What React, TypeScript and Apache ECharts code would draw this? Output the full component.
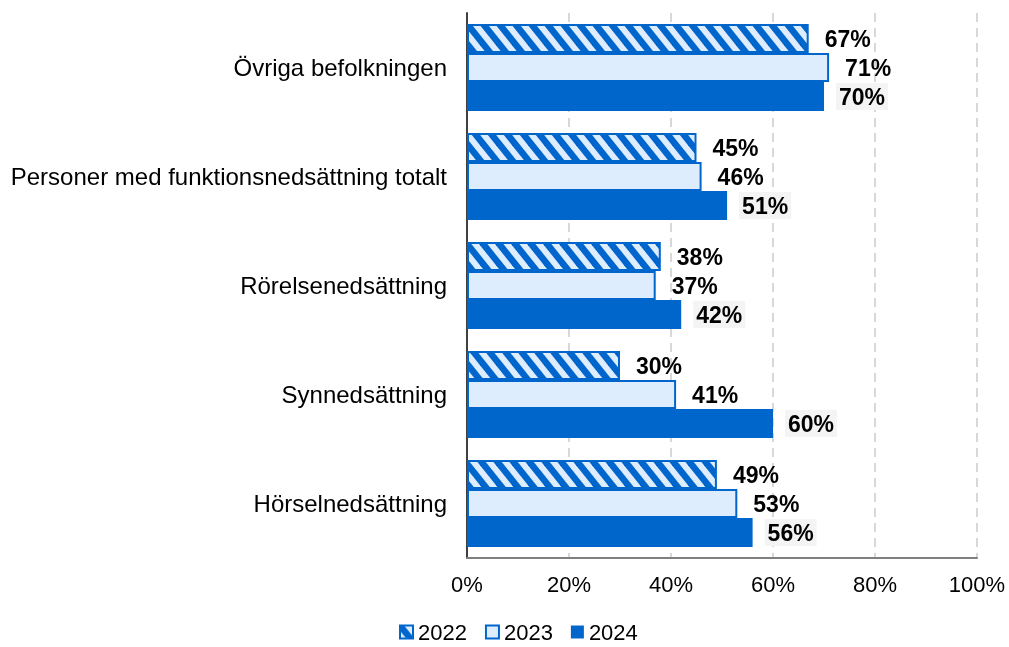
import React, { useEffect, useRef } from "react";
import * as echarts from "echarts";

const categories = [
  "Övriga befolkningen",
  "Personer med funktionsnedsättning totalt",
  "Rörelsenedsättning",
  "Synnedsättning",
  "Hörselnedsättning",
];
const values2022 = [67, 45, 38, 30, 49];
const values2023 = [71, 46, 37, 41, 53];
const values2024 = [70, 51, 42, 60, 56];
const seriesNames = ["2022", "2023", "2024"];

const BLUE = "#0066cc";
const LIGHT = "#ddedfd";
const FONT = 'Arial, "Liberation Sans", sans-serif';

function makeHatch(): HTMLCanvasElement {
  const W = 16;
  const H = 20;
  const c = document.createElement("canvas");
  c.width = W;
  c.height = H;
  const ctx = c.getContext("2d")!;
  ctx.fillStyle = LIGHT;
  ctx.fillRect(0, 0, W, H);
  ctx.strokeStyle = BLUE;
  ctx.lineWidth = 6.5;
  for (const off of [-2 * W, -W, 0, W, 2 * W]) {
    ctx.beginPath();
    ctx.moveTo(off - W, -H);
    ctx.lineTo(off + 2 * W, 2 * H);
    ctx.stroke();
  }
  return c;
}

export default function App() {
  const ref = useRef<HTMLDivElement>(null);
  useEffect(() => {
    if (!ref.current) return;
    const chart = echarts.init(ref.current, undefined, { renderer: "svg" });
    const hatch = makeHatch();
    const labelBase = {
      show: true,
      position: "right" as const,
      distance: 16,
      formatter: "{c}%",
      fontFamily: FONT,
      fontSize: 23,
      fontWeight: "bold" as const,
      color: "#000",
    };
    chart.setOption({
      animation: false,
      grid: { left: 467, right: 32, top: 13, bottom: 89, containLabel: false },
      legend: {
        data: seriesNames,
        icon: "rect",
        left: 399,
        top: 621,
        padding: 0,
        itemWidth: 13,
        itemHeight: 13,
        itemGap: 18,
        textStyle: { fontFamily: FONT, fontSize: 22, color: "#000", lineHeight: 22 },
      },
      xAxis: {
        type: "value",
        min: 0,
        max: 100,
        interval: 20,
        axisLabel: {
          formatter: "{value}%",
          fontFamily: FONT,
          fontSize: 22,
          color: "#000",
          margin: 15,
        },
        axisLine: { show: true, lineStyle: { color: "#7f7f7f", width: 2 } },
        axisTick: { show: false },
        splitLine: {
          show: true,
          lineStyle: { color: "#cccccc", type: [9, 6], width: 1.5 },
        },
      },
      yAxis: {
        type: "category",
        data: categories,
        inverse: true,
        axisLabel: {
          fontFamily: FONT,
          fontSize: 24,
          color: "#000",
          margin: 20,
        },
        axisLine: { show: true, lineStyle: { color: "#404040", width: 2 } },
        axisTick: { show: false },
        splitLine: { show: false },
      },
      series: [
        {
          name: seriesNames[0],
          type: "bar",
          data: values2022,
          barWidth: 29,
          barGap: "0%",
          itemStyle: {
            color: { image: hatch, repeat: "repeat" },
            borderColor: BLUE,
            borderWidth: 2,
          },
          label: { ...labelBase, distance: 16 },
        },
        {
          name: seriesNames[1],
          type: "bar",
          data: values2023,
          barWidth: 29,
          barGap: "0%",
          itemStyle: { color: LIGHT, borderColor: BLUE, borderWidth: 2 },
          label: { ...labelBase, distance: 16 },
        },
        {
          name: seriesNames[2],
          type: "bar",
          data: values2024,
          barWidth: 29,
          barGap: "0%",
          itemStyle: { color: BLUE },
          label: {
            ...labelBase,
            distance: 12,
            backgroundColor: "#f4f4f4",
            padding: [2, 3],
          },
        },
      ],
    });
    return () => chart.dispose();
  }, []);
  return (
    <div
      ref={ref}
      style={{ position: "fixed", left: 0, top: 0, width: 1009, height: 647 }}
    />
  );
}
